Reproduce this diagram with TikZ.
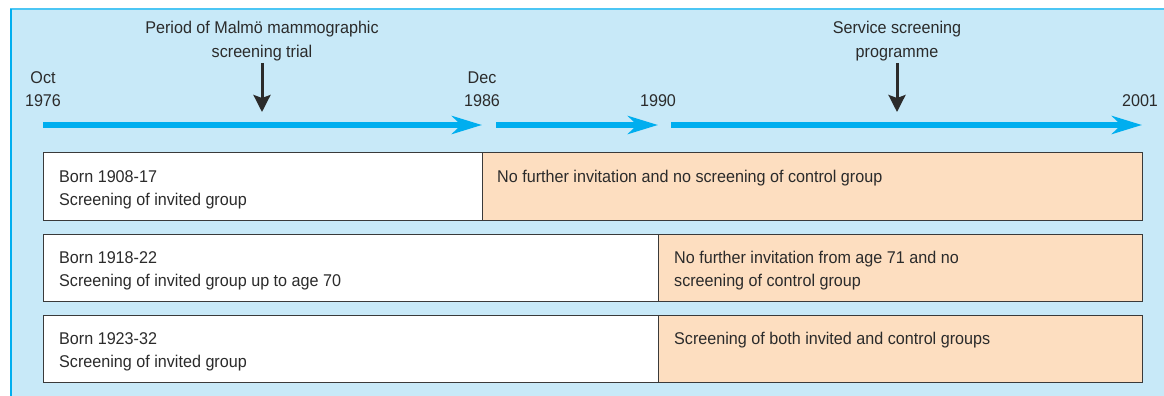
\documentclass[tikz,border=0pt]{standalone}
\usepackage{fontspec}
\setmainfont{Liberation Sans}[FakeStretch=0.95]
\usetikzlibrary{arrows.meta}
\definecolor{panel}{HTML}{C8E9F8}
\definecolor{cyanline}{HTML}{00AEEF}
\definecolor{peach}{HTML}{FDDEC0}
\definecolor{ink}{HTML}{2B2B2B}
\definecolor{frame}{HTML}{3A3A3A}
\tikzset{
  tl/.style={line width=6pt, cyanline, -{Stealth[length=30pt,width=18pt,inset=9pt]}},
  pointer/.style={line width=3pt, ink, -{Stealth[length=17pt,width=17pt,inset=3pt]}},
  lbl/.style={inner sep=0pt, text=ink, align=center, font=\fontsize{17}{22}\selectfont},
  wbox/.style={draw=frame, line width=1pt, fill=white, anchor=north west, inner sep=0pt},
  pbox/.style={draw=frame, line width=1pt, fill=peach, anchor=north west, inner sep=0pt},
  btxt/.style={inner sep=0pt, text=ink, align=left, anchor=north west, font=\fontsize{17}{23}\selectfont},
}
\begin{document}
\begin{tikzpicture}[x=1pt,y=-1pt]
\useasboundingbox (0,0) rectangle (1164,396);
\fill[panel] (10,9) rectangle (1164,396);
\draw[cyanline!70, line width=1.2pt] (10,9) -- (1164,9);
\draw[cyanline, line width=2pt] (11,9) -- (11,396);

% timeline coordinates
\coordinate (t0) at (43,125);
\coordinate (t1e) at (482,125);
\coordinate (t1s) at (496,125);
\coordinate (t2e) at (658,125);
\coordinate (t2s) at (671,125);
\coordinate (t3e) at (1142,125);
\draw[tl] (t0) -- (t1e);
\draw[tl] (t1s) -- (t2e);
\draw[tl] (t2s) -- (t3e);

% date labels
\node[lbl, anchor=base] (oct) at (43,84) {Oct};
\node[lbl, anchor=base] (y76) at (43,106) {1976};
\node[lbl, anchor=base] (dec) at (482,84) {Dec};
\node[lbl, anchor=base] (y86) at (482,106) {1986};
\node[lbl, anchor=base] (y90) at (658,106) {1990};
\node[lbl, anchor=base] (y01) at (1140,106) {2001};

% period labels
\node[lbl, anchor=base] (mal1) at (262,34) {Period of Malmö mammographic};
\node[lbl, anchor=base] (mal2) at (262,57) {screening trial};
\node[lbl, anchor=base] (ser1) at (897,34) {Service screening};
\node[lbl, anchor=base] (ser2) at (897,57) {programme};
\coordinate (m0) at (262,63);
\coordinate (m1) at (262,112);
\coordinate (s0) at (897,63);
\coordinate (s1) at (897,112);
\draw[pointer] (m0) -- (m1);
\draw[pointer] (s0) -- (s1);

% row 1
\node[wbox, minimum width=439pt, minimum height=68pt] (w1) at (43,152) {};
\node[pbox, minimum width=660pt, minimum height=68pt] (p1) at (482,152) {};
% row 2
\node[wbox, minimum width=615pt, minimum height=67pt] (w2) at (43,234) {};
\node[pbox, minimum width=484pt, minimum height=67pt] (p2) at (658,234) {};
% row 3
\node[wbox, minimum width=615pt, minimum height=67pt] (w3) at (43,315) {};
\node[pbox, minimum width=484pt, minimum height=67pt] (p3) at (658,315) {};

\node[btxt, anchor=base west] (a1) at (59,182) {Born 1908-17};
\node[btxt, anchor=base west] (a2) at (59,205) {Screening of invited group};
\node[btxt, anchor=base west] (b1) at (497,182) {No further invitation and no screening of control group};

\node[btxt, anchor=base west] (c1) at (59,263) {Born 1918-22};
\node[btxt, anchor=base west] (c2) at (59,286) {Screening of invited group up to age 70};
\node[btxt, anchor=base west] (d1) at (674,263) {No further invitation from age 71 and no};
\node[btxt, anchor=base west] (d2) at (674,286) {screening of control group};

\node[btxt, anchor=base west] (e1) at (59,344) {Born 1923-32};
\node[btxt, anchor=base west] (e2) at (59,367) {Screening of invited group};
\node[btxt, anchor=base west] (f1) at (674,344) {Screening of both invited and control groups};
\end{tikzpicture}
\end{document}
